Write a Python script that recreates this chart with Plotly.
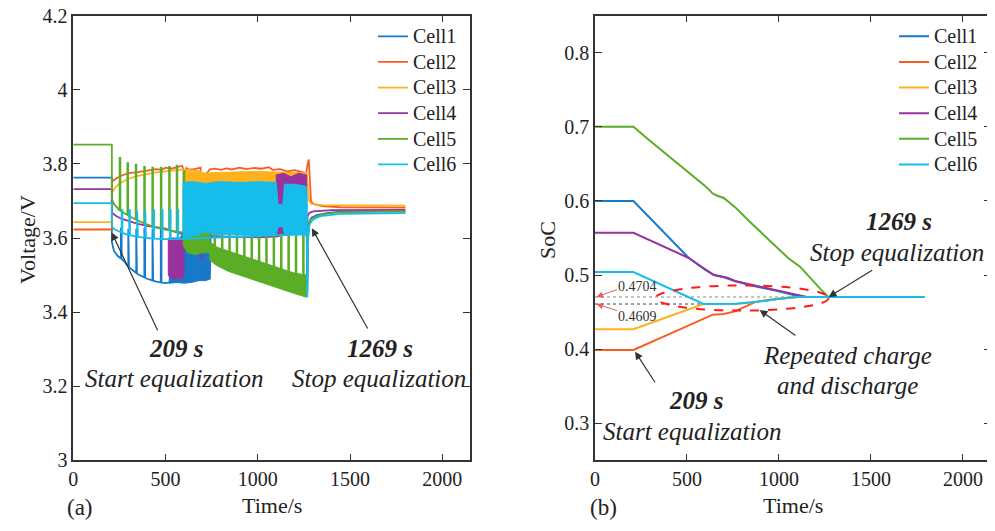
import numpy as np
import plotly.graph_objects as go

FONT = "Liberation Serif"
# page is 995x531; the browser puts the figure 8px in from the top-left corner
OFF = 8
W, H = 995 - OFF, 531 - OFF

CELL_NAMES = ["Cell1", "Cell2", "Cell3", "Cell4", "Cell5", "Cell6"]
CELL_COLORS = ["#1679c9", "#fc5a20", "#fdb21d", "#98339e", "#5aad25", "#16bdea"]

# ---------------- (a) voltage data ----------------
V_CELL1_T = [0, 209, 209, 220, 240, 270, 300, 350, 400, 450, 500, 520, 740, 745, 1260, 1265, 1268, 1272, 1280, 1290, 1320, 1380, 1450, 1800]
V_CELL1_V = [3.763, 3.763, 3.59, 3.565, 3.552, 3.54, 3.522, 3.502, 3.49, 3.482, 3.478, 3.48, 3.49, 3.62, 3.62, 3.60, 3.46, 3.60, 3.645, 3.655, 3.662, 3.668, 3.671, 3.672]
V_CELL1_SPIKE_T = [258, 298, 341, 385, 429, 474, 600, 640, 700, 735, 1095, 1125, 1160]
V_CELL1_SPIKE_V = [3.625, 3.625, 3.625, 3.625, 3.625, 3.625, 3.75, 3.75, 3.75, 3.75, 3.775, 3.775, 3.775]
V_CELL1_BAND_T = [520, 560, 600, 640, 680, 720, 740]
V_CELL1_BAND_LO = [3.478, 3.48, 3.478, 3.48, 3.485, 3.485, 3.49]
V_CELL1_BAND_HI = [3.55, 3.58, 3.62, 3.60, 3.58, 3.60, 3.60]

V_CELL2_T = [0, 209, 209, 230, 260, 300, 350, 400, 450, 480, 500, 530, 560, 590, 600, 605, 612, 620, 650, 690, 695, 700, 720, 740, 770, 800, 830, 860, 900, 940, 980, 1020, 1060, 1080, 1120, 1160, 1200, 1240, 1262, 1270, 1276, 1282, 1288, 1300, 1350, 1450, 1800]
V_CELL2_V = [3.623, 3.623, 3.752, 3.76, 3.768, 3.775, 3.778, 3.782, 3.786, 3.784, 3.79, 3.787, 3.792, 3.795, 3.78, 3.74, 3.79, 3.786, 3.785, 3.79, 3.60, 3.77, 3.772, 3.785, 3.787, 3.784, 3.788, 3.785, 3.79, 3.786, 3.789, 3.787, 3.791, 3.784, 3.786, 3.78, 3.783, 3.778, 3.775, 3.80, 3.812, 3.76, 3.70, 3.692, 3.686, 3.683, 3.682]

V_CELL3_T = [0, 209, 209, 230, 260, 300, 350, 400, 450, 500, 550, 595, 690, 700, 735, 745, 1265, 1270, 1278, 1290, 1350, 1800]
V_CELL3_V = [3.643, 3.643, 3.722, 3.738, 3.75, 3.76, 3.768, 3.773, 3.777, 3.78, 3.783, 3.785, 3.78, 3.76, 3.765, 3.775, 3.775, 3.74, 3.70, 3.692, 3.689, 3.687]
V_CELL3_BAND_T = [595, 690, 745, 800, 900, 1000, 1100, 1200, 1265]
V_CELL3_BAND_LO = [3.745, 3.745, 3.75, 3.75, 3.75, 3.75, 3.75, 3.745, 3.74]
V_CELL3_BAND_HI = [3.78, 3.778, 3.775, 3.777, 3.778, 3.78, 3.778, 3.776, 3.775]

V_CELL4_T = [0, 209, 209, 230, 260, 300, 350, 400, 450, 500, 515, 600, 620, 690, 694, 698, 740, 800, 900, 1000, 1100, 1265, 1270, 1280, 1300, 1400, 1800]
V_CELL4_V = [3.732, 3.732, 3.668, 3.66, 3.652, 3.645, 3.638, 3.633, 3.63, 3.625, 3.622, 3.61, 3.61, 3.61, 3.54, 3.61, 3.606, 3.604, 3.603, 3.602, 3.604, 3.62, 3.66, 3.668, 3.672, 3.675, 3.676]
V_CELL4_BAND1_T = [515, 530, 560, 590, 600]
V_CELL4_BAND1_LO = [3.50, 3.49, 3.49, 3.49, 3.50]
V_CELL4_BAND1_HI = [3.60, 3.60, 3.60, 3.60, 3.60]
V_CELL4_BAND2_T = [1100, 1140, 1180, 1220, 1265]
V_CELL4_BAND2_LO = [3.61, 3.61, 3.61, 3.61, 3.61]
V_CELL4_BAND2_HI = [3.77, 3.775, 3.765, 3.775, 3.77]

V_CELL5_T = [0, 209, 209, 220, 250, 300, 350, 400, 450, 500, 550, 595, 740, 1265, 1268, 1275, 1290, 1350, 1450, 1800]
V_CELL5_V = [3.852, 3.852, 3.705, 3.692, 3.675, 3.66, 3.647, 3.636, 3.628, 3.622, 3.618, 3.615, 3.58, 3.47, 3.45, 3.64, 3.652, 3.664, 3.67, 3.672]
V_CELL5_SPIKE_T = [251, 293, 338, 384, 428, 474, 519, 560, 598,
                   765, 805, 845, 885, 925, 965, 1005, 1045, 1085, 1125, 1165, 1205, 1245]
V_CELL5_SPIKE_V = [3.816, 3.802, 3.798, 3.792, 3.79, 3.79, 3.792, 3.795, 3.78,
                   3.61, 3.61, 3.61, 3.61, 3.61, 3.61, 3.61, 3.61, 3.61, 3.61, 3.61, 3.61, 3.61]
V_CELL5_BAND1_T = [595, 620, 660, 700, 740]
V_CELL5_BAND1_LO = [3.58, 3.56, 3.555, 3.56, 3.56]
V_CELL5_BAND1_HI = [3.74, 3.74, 3.72, 3.70, 3.62]
V_CELL5_BAND2_T = [740, 780, 840, 900, 960, 1020, 1080, 1140, 1200, 1265]
V_CELL5_BAND2_LO = [3.54, 3.525, 3.51, 3.50, 3.49, 3.48, 3.47, 3.46, 3.45, 3.44]
V_CELL5_BAND2_HI = [3.59, 3.575, 3.565, 3.555, 3.545, 3.535, 3.525, 3.515, 3.505, 3.50]

V_CELL6_T = [0, 209, 209, 220, 260, 300, 350, 400, 450, 500, 550, 595, 1262, 1265, 1268, 1272, 1278, 1290, 1310, 1350, 1450, 1800]
V_CELL6_V = [3.694, 3.694, 3.632, 3.624, 3.615, 3.608, 3.603, 3.60, 3.598, 3.597, 3.597, 3.598, 3.61, 3.72, 3.44, 3.60, 3.632, 3.645, 3.653, 3.66, 3.665, 3.667]
V_CELL6_SPIKE_T = [262, 303, 346, 390, 434, 480, 524, 565]
V_CELL6_SPIKE_V = [3.675, 3.675, 3.675, 3.675, 3.675, 3.675, 3.675, 3.675]
V_CELL6_BAND_T = [595, 640, 690, 700, 735, 745, 800, 900, 1000, 1100, 1110, 1135, 1145, 1200, 1262]
V_CELL6_BAND_HI = [3.75, 3.752, 3.75, 3.748, 3.748, 3.75, 3.752, 3.75, 3.752, 3.75, 3.69, 3.69, 3.745, 3.745, 3.74]
V_CELL6_BAND_LO = [3.60, 3.605, 3.61, 3.615, 3.615, 3.61, 3.608, 3.608, 3.607, 3.61, 3.63, 3.63, 3.61, 3.61, 3.61]

# ---------------- (b) SoC data ----------------
S_CELL1_T = [0, 209, 510, 600, 650, 700, 760, 850, 1000, 1100, 1150, 1269, 1790]
S_CELL1_V = [0.600, 0.600, 0.523, 0.507, 0.500, 0.497, 0.492, 0.486, 0.478, 0.4718, 0.4704, 0.4704, 0.4704]
S_CELL2_T = [0, 209, 400, 640, 700, 760, 870, 1000, 1100, 1269, 1790]
S_CELL2_V = [0.399, 0.399, 0.420, 0.4465, 0.4475, 0.451, 0.4635, 0.468, 0.4704, 0.4704, 0.4704]
S_CELL3_T = [0, 209, 590, 770, 870, 1000, 1100, 1269, 1790]
S_CELL3_V = [0.427, 0.427, 0.4609, 0.4612, 0.4635, 0.468, 0.4704, 0.4704, 0.4704]
S_CELL4_T = [0, 209, 510, 600, 645, 700, 720, 760, 850, 950, 1025, 1116, 1150, 1269, 1790]
S_CELL4_V = [0.557, 0.557, 0.523, 0.507, 0.500, 0.4975, 0.4965, 0.492, 0.487, 0.482, 0.4776, 0.4718, 0.4704, 0.4704, 0.4704]
S_CELL5_T = [0, 209, 300, 400, 500, 560, 600, 640, 665, 700, 760, 850, 950, 1050, 1116, 1180, 1230, 1269, 1790]
S_CELL5_V = [0.70, 0.70, 0.681, 0.661, 0.641, 0.628, 0.620, 0.610, 0.607, 0.604, 0.592, 0.570, 0.547, 0.523, 0.511, 0.493, 0.480, 0.4704, 0.4704]
S_CELL6_T = [0, 209, 590, 770, 870, 1000, 1100, 1269, 1790]
S_CELL6_V = [0.504, 0.504, 0.4609, 0.4612, 0.4635, 0.468, 0.4704, 0.4704, 0.4704]

SOC_REF_LEVELS = [0.4704, 0.4609]
SOC_REF_END_T = [1269, 770]
SOC_REF_LABELS = ["0.4704", "0.4609"]

X_TICKS = [0, 500, 1000, 1500, 2000]
V_TICKS = [3, 3.2, 3.4, 3.6, 3.8, 4, 4.2]
V_TICK_TEXT = ["3", "3.2", "3.4", "3.6", "3.8", "4", "4.2"]
S_TICKS = [0.3, 0.4, 0.5, 0.6, 0.7, 0.8]
S_TICK_TEXT = ["0.3", "0.4", "0.5", "0.6", "0.7", "0.8"]


def px(x):
    return (x - OFF) / W


def py(y):
    return 1 - (y - OFF) / H


def with_spikes(t, v, st, sv, w=4):
    pts = [(a, b) for a, b in zip(t, v)]
    for ts, pk in zip(st, sv):
        b0 = float(np.interp(ts, t, v))
        b1 = float(np.interp(ts + w, t, v))
        pts += [(ts, b0), (ts, pk), (ts + w, pk), (ts + w, b1)]
    pts = sorted(pts, key=lambda p: p[0])
    return [p[0] for p in pts], [p[1] for p in pts]


def band_xy(bt, lo, hi):
    return list(bt) + list(bt)[::-1] + [bt[0]], list(hi) + list(lo)[::-1] + [hi[0]]


def legend_name(n):
    return "<span style='font-size:20px'>%s</span>" % n


fig = go.Figure()

v_lines = [
    (V_CELL1_T, V_CELL1_V, V_CELL1_SPIKE_T, V_CELL1_SPIKE_V, [(V_CELL1_BAND_T, V_CELL1_BAND_LO, V_CELL1_BAND_HI)]),
    (V_CELL2_T, V_CELL2_V, [], [], []),
    (V_CELL3_T, V_CELL3_V, [], [], [(V_CELL3_BAND_T, V_CELL3_BAND_LO, V_CELL3_BAND_HI)]),
    (V_CELL4_T, V_CELL4_V, [], [], [(V_CELL4_BAND1_T, V_CELL4_BAND1_LO, V_CELL4_BAND1_HI),
                                     (V_CELL4_BAND2_T, V_CELL4_BAND2_LO, V_CELL4_BAND2_HI)]),
    (V_CELL5_T, V_CELL5_V, V_CELL5_SPIKE_T, V_CELL5_SPIKE_V, [(V_CELL5_BAND1_T, V_CELL5_BAND1_LO, V_CELL5_BAND1_HI),
                                                           (V_CELL5_BAND2_T, V_CELL5_BAND2_LO, V_CELL5_BAND2_HI)]),
    (V_CELL6_T, V_CELL6_V, V_CELL6_SPIKE_T, V_CELL6_SPIKE_V, [(V_CELL6_BAND_T, V_CELL6_BAND_LO, V_CELL6_BAND_HI)]),
]

for i, (t, v, st, sv, bands) in enumerate(v_lines):
    col = CELL_COLORS[i]
    for bt, lo, hi in bands:
        bx, by = band_xy(bt, lo, hi)
        fig.add_trace(go.Scatter(x=bx, y=by, mode="lines", fill="toself", fillcolor=col,
                                 line=dict(color=col, width=1), showlegend=False,
                                 hoverinfo="skip", xaxis="x", yaxis="y"))
    xt, yv = with_spikes(t, v, st, sv)
    fig.add_trace(go.Scatter(x=xt, y=yv, mode="lines", name=legend_name(CELL_NAMES[i]),
                             line=dict(color=col, width=1.8), xaxis="x", yaxis="y",
                             legend="legend"))

# reference dotted lines (b)
ref_cols = ["#8a8a8a", "#444444"]
for lvl, te, c in zip(SOC_REF_LEVELS, SOC_REF_END_T, ref_cols):
    fig.add_trace(go.Scatter(x=[0, te], y=[lvl, lvl], mode="lines",
                             line=dict(color=c, width=1, dash="dot"), showlegend=False,
                             hoverinfo="skip", xaxis="x2", yaxis="y2"))

s_lines = [(S_CELL1_T, S_CELL1_V), (S_CELL2_T, S_CELL2_V), (S_CELL3_T, S_CELL3_V),
           (S_CELL4_T, S_CELL4_V), (S_CELL5_T, S_CELL5_V), (S_CELL6_T, S_CELL6_V)]
for i, (t, v) in enumerate(s_lines):
    fig.add_trace(go.Scatter(x=t, y=v, mode="lines", name=legend_name(CELL_NAMES[i]),
                             line=dict(color=CELL_COLORS[i], width=2), xaxis="x2", yaxis="y2",
                             legend="legend2"))

axis_common = dict(showgrid=False, zeroline=False, showline=True, linecolor="#333333",
                   linewidth=1.5, mirror="ticks", ticks="inside", ticklen=7, tickwidth=1.2,
                   tickcolor="#333333", automargin=False, ticklabeloverflow="allow",
                   tickfont=dict(family=FONT, size=20, color="#222222"))

ydom = [py(460.3), py(15.7)]
leg_common = dict(xanchor="left", yanchor="top", bgcolor="rgba(0,0,0,0)",
                  font=dict(family=FONT, size=17.4, color="#222222"), tracegroupgap=0, itemwidth=30)
fig.update_layout(
    width=W, height=H, margin=dict(l=0, r=0, t=0, b=0, autoexpand=False),
    paper_bgcolor="white", plot_bgcolor="white",
    xaxis=dict(domain=[px(73.3), px(470)], range=[0, 2150], tickvals=X_TICKS, anchor="y", **axis_common),
    yaxis=dict(domain=ydom, range=[3, 4.2], tickvals=V_TICKS, ticktext=V_TICK_TEXT, anchor="x", **axis_common),
    xaxis2=dict(domain=[px(595), px(990.5)], range=[0, 2150], tickvals=X_TICKS, anchor="y2", **axis_common),
    yaxis2=dict(domain=ydom, range=[0.25, 0.85], tickvals=S_TICKS, ticktext=S_TICK_TEXT, anchor="x2", **axis_common),
    legend=dict(x=px(373), y=py(18.5), **leg_common),
    legend2=dict(x=px(894), y=py(18.5), **leg_common),
    showlegend=True,
)


def txt(x, y, s, size, angle=0, color="#222222"):
    fig.add_annotation(x=px(x), y=py(y), xref="paper", yref="paper", text=s, showarrow=False,
                       xanchor="center", yanchor="middle", textangle=angle,
                       font=dict(family=FONT, size=size, color=color))


# axis titles and panel labels
txt(27, 240, "Voltage/V", 22, angle=-90)
txt(547, 240, "SoC", 22, angle=-90)
txt(272, 505, "Time/s", 22)
txt(793, 505, "Time/s", 22)
txt(80, 507, "(a)", 23)
txt(603, 507, "(b)", 23)

# text annotations
txt(176, 348, "<b><i>209 s</i></b>", 25)
txt(174, 378, "<i>Start equalization</i>", 25)
txt(380, 348, "<b><i>1269 s</i></b>", 25)
txt(379, 378, "<i>Stop equalization</i>", 25)
txt(899, 222, "<b><i>1269 s</i></b>", 25)
txt(897, 252, "<i>Stop equalization</i>", 25)
txt(847, 355, "<i>Repeated charge</i>", 25)
txt(847, 385, "<i>and discharge</i>", 25)
txt(696, 400, "<b><i>209 s</i></b>", 25)
txt(692, 431, "<i>Start equalization</i>", 25)
txt(637, 286, SOC_REF_LABELS[0], 14, color="#333333")
txt(637, 316, SOC_REF_LABELS[1], 14, color="#333333")


def arrow(x, y, ax, ay, xr, yr, color="#333333", width=1.2):
    fig.add_annotation(x=x, y=y, xref=xr, yref=yr, ax=ax, ay=ay, axref="pixel", ayref="pixel",
                       text="", showarrow=True, arrowhead=2, arrowsize=1.3, arrowwidth=width,
                       arrowcolor=color)


arrow(208, 3.615, 46.6, 99.3, "x", "y")
arrow(1293, 3.626, 56.6, 101.6, "x", "y")
arrow(1270, 0.4704, 45, -27.7, "x2", "y2")
arrow(895, 0.4529, 37.3, 26.7, "x2", "y2")
arrow(218, 0.3966, 21, 32.3, "x2", "y2")
arrow(8, 0.4704, 22, -8, "x2", "y2", color="#f05a5a", width=1)
arrow(8, 0.4609, 22, 7, "x2", "y2", color="#f05a5a", width=1)

# red dashed ellipse
fig.add_shape(type="circle", xref="x2", yref="y2", x0=330, x1=1270, y0=0.452, y1=0.486,
              line=dict(color="#ff1a1a", width=2, dash="dash"))

fig.write_html("out.html")
